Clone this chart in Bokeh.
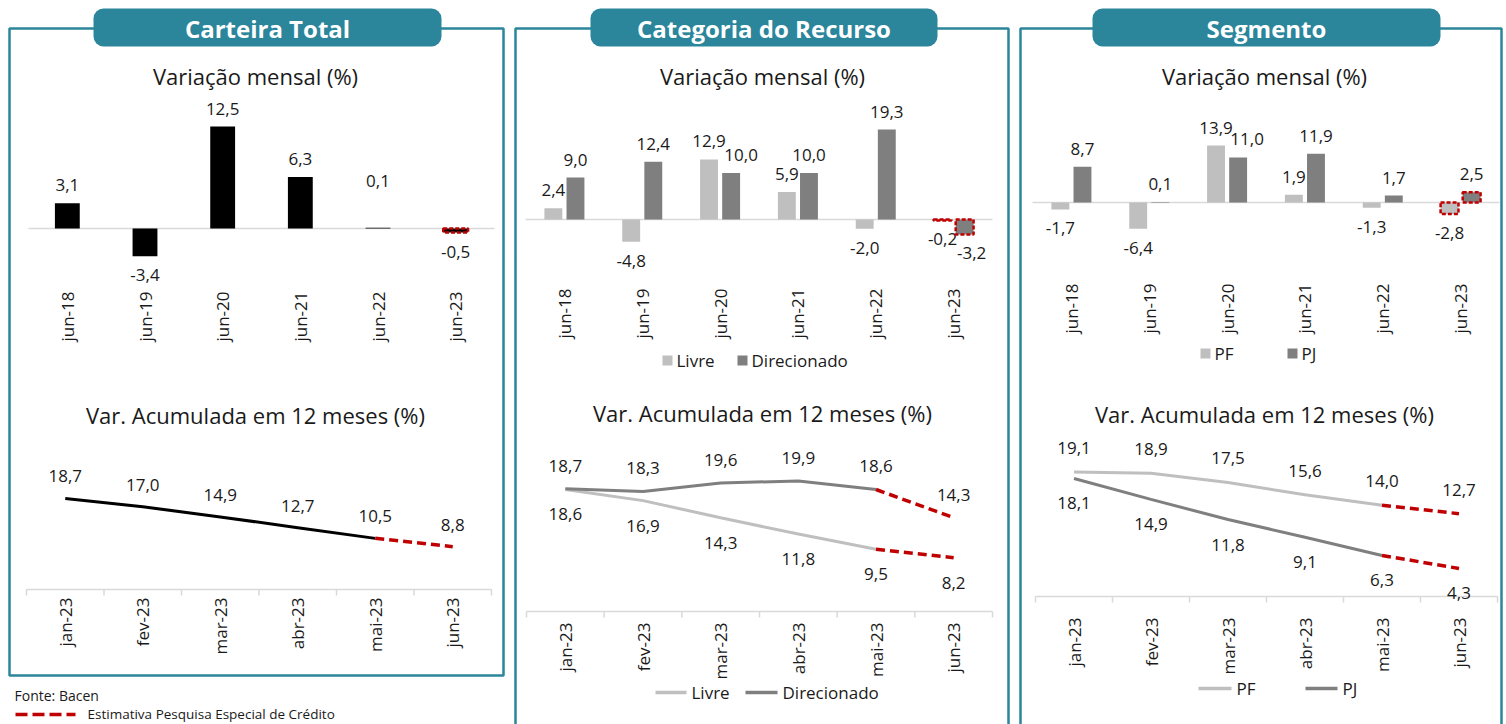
import numpy as np
from bokeh.plotting import figure
from bokeh.models import Range1d
from bokeh.core.properties import value
from bokeh.embed import file_html
from bokeh.resources import INLINE

# ---------------- data ----------------
anos = ["jun-18", "jun-19", "jun-20", "jun-21", "jun-22", "jun-23"]
meses = ["jan-23", "fev-23", "mar-23", "abr-23", "mai-23", "jun-23"]

total_mensal = [3.1, -3.4, 12.5, 6.3, 0.1, -0.5]
total_acum = [18.7, 17.0, 14.9, 12.7, 10.5, 8.8]

livre_mensal = [2.4, -4.8, 12.9, 5.9, -2.0, -0.2]
direcionado_mensal = [9.0, 12.4, 10.0, 10.0, 19.3, -3.2]
livre_acum = [18.6, 16.9, 14.3, 11.8, 9.5, 8.2]
direcionado_acum = [18.7, 18.3, 19.6, 19.9, 18.6, 14.3]

pf_mensal = [-1.7, -6.4, 13.9, 1.9, -1.3, -2.8]
pj_mensal = [8.7, 0.1, 11.0, 11.9, 1.7, 2.5]
pf_acum = [19.1, 18.9, 17.5, 15.6, 14.0, 12.7]
pj_acum = [18.1, 14.9, 11.8, 9.1, 6.3, 4.3]

# ---------------- style ----------------
W, H = 1506, 724
TEAL = "#2b859b"
RED = "#c00000"
LIGHT = "#bfbfbf"
DARK = "#7f7f7f"
INK = "#1a1a1a"
AXIS = "#d9d9d9"
FONT = value("Open Sans")

p = figure(width=W, height=H, x_range=Range1d(0, W), y_range=Range1d(0, H),
           x_axis_type=None, y_axis_type=None, output_backend="svg",
           toolbar_location=None, min_border=0)
p.outline_line_color = None
p.background_fill_color = "white"


def row(r):
    """Page row (from the top) -> canvas y."""
    return H - r


def fmt(vals):
    return [f"{v:.1f}".replace(".", ",") for v in vals]


def sub_chart(name, left, right, zero_row, px_per_unit, n=6):
    """Extra ranges placing n categories between page columns left..right,
    with value 0 on page row zero_row."""
    per_px = n / (right - left)
    p.extra_x_ranges[name] = Range1d(-0.5 - left * per_px, -0.5 + (W - left) * per_px)
    p.extra_y_ranges[name] = Range1d((zero_row - H) / px_per_unit, zero_row / px_per_unit)
    return dict(x_range_name=name, y_range_name=name), px_per_unit


def txt(x, y, text, size, color=INK, align="center", baseline="middle", bold=False, **kw):
    p.text(x=x, y=y, text=text, text_font=FONT, text_font_size=size,
           text_color=color, text_align=align, text_baseline=baseline,
           text_font_style="bold" if bold else "normal", **kw)


def category_axis(rn, ppu, cats, label_gap, ticks):
    n = len(cats)
    p.segment(x0=[-0.5], y0=[0], x1=[n - 0.5], y1=[0], line_color=AXIS, line_width=1.5, **rn)
    if ticks:
        b = np.arange(n + 1) - 0.5
        p.segment(x0=b, y0=np.zeros(n + 1), x1=b, y1=np.full(n + 1, -6 / ppu),
                  line_color=AXIS, line_width=1.5, **rn)
    txt(np.arange(n), np.zeros(n), cats, "17px", angle=np.pi / 2, align="right",
        y_offset=label_gap, **rn)


def bars(rn, vals, color, width, offset, nudge_x=None, nudge_y=None):
    v = np.asarray(vals, dtype=float)
    x = np.arange(len(v)) + offset
    p.vbar(x=x[:-1], top=v[:-1], bottom=0, width=width, fill_color=color,
           line_color=None, **rn)
    # latest month: survey estimate, dashed red outline
    p.vbar(x=x[-1:], top=v[-1:], bottom=0, width=width, fill_color=color,
           line_color=RED, line_width=2.5, line_dash="4 2", **rn)
    nx = np.zeros(len(v)) if nudge_x is None else np.asarray(nudge_x, float)
    ny = np.zeros(len(v)) if nudge_y is None else np.asarray(nudge_y, float)
    txt(x, v, fmt(v), "17px", x_offset=nx, y_offset=np.where(v >= 0, -18, 19) + ny, **rn)


def trend(rn, vals, color, label_dy):
    v = np.asarray(vals, dtype=float)
    x = np.arange(len(v))
    p.line(x[:-1], v[:-1], line_color=color, line_width=3, **rn)
    p.line(x[-2:], v[-2:], line_color=RED, line_width=3.5, line_dash="9 5", **rn)
    txt(x, v, fmt(v), "17px", y_offset=label_dy, **rn)


# ---------------- panel frames and banners ----------------
frames = [(9, 503, 675), (515, 1008, 760), (1020, 1501, 760)]
for l, r, b in frames:
    p.quad(left=l, right=r, top=row(28), bottom=row(b), fill_color=None,
           line_color=TEAL, line_width=2.5)

banners = [(93, 441, "Carteira Total"), (590, 937, "Categoria do Recurso"),
           (1092, 1440, "Segmento")]
for l, r, t in banners:
    p.quad(left=l, right=r, top=row(8), bottom=row(46), fill_color=TEAL,
           line_color=None, border_radius=10)
    txt([(l + r) / 2], [row(28)], [t], "24px", color="white", bold=True)

subtitles = [(255, 414), (762, 412), (1264, 413)]
for cx, r2 in subtitles:
    txt([cx], [row(75)], ["Variação mensal (%)"], "22px")
    txt([cx], [row(r2)], ["Var. Acumulada em 12 meses (%)"], "22px")

# ---------------- Carteira Total ----------------
rn, ppu = sub_chart("tot_bar", 28, 494, 228, 8.16)
category_axis(rn, ppu, anos, 63, ticks=False)
bars(rn, total_mensal, "black", 0.32, 0.0, nudge_y=[0, 0, 0, 0, -29, 0])

rn, ppu = sub_chart("tot_line", 26, 491, 589, 4.87)
category_axis(rn, ppu, meses, 8, ticks=True)
trend(rn, total_acum, "black", -22)

# ---------------- Categoria do Recurso ----------------
rn, ppu = sub_chart("cat_bar", 525, 992, 219, 4.66)
category_axis(rn, ppu, anos, 69, ticks=False)
bars(rn, livre_mensal, LIGHT, 0.23, -0.142)
bars(rn, direcionado_mensal, DARK, 0.23, 0.142, nudge_x=[0, 0, 10, 0, 0, 7])

rn, ppu = sub_chart("cat_line", 526, 992, 611, 6.56)
category_axis(rn, ppu, meses, 11, ticks=True)
trend(rn, livre_acum, LIGHT, 25)
trend(rn, direcionado_acum, DARK, -23)

# ---------------- Segmento ----------------
rn, ppu = sub_chart("seg_bar", 1032, 1499, 202, 4.1)
category_axis(rn, ppu, anos, 81, ticks=False)
bars(rn, pf_mensal, LIGHT, 0.23, -0.142)
bars(rn, pj_mensal, DARK, 0.23, 0.142, nudge_x=[0, 0, 9, 0, 0, 0])

rn, ppu = sub_chart("seg_line", 1035, 1497, 596, 6.52)
category_axis(rn, ppu, meses, 21, ticks=True)
trend(rn, pf_acum, LIGHT, -24)
trend(rn, pj_acum, DARK, 25)

# ---------------- legends ----------------
def legend_square(x, r, color, label):
    p.rect(x=[x], y=[row(r)], width=10, height=10, fill_color=color, line_color=None)
    txt([x + 9], [row(r)], [label], "17px", align="left")


def legend_line(x0, x1, r, color, label):
    p.line([x0, x1], [row(r), row(r)], line_color=color, line_width=3.5)
    txt([x1 + 5], [row(r)], [label], "17px", align="left")


legend_square(667, 360, LIGHT, "Livre")
legend_square(742, 360, DARK, "Direcionado")
legend_square(1205, 353, LIGHT, "PF")
legend_square(1292, 353, DARK, "PJ")
legend_line(655, 686, 692, LIGHT, "Livre")
legend_line(745, 777, 692, DARK, "Direcionado")
legend_line(1198, 1231, 688, LIGHT, "PF")
legend_line(1305, 1337, 688, DARK, "PJ")

# ---------------- footnotes ----------------
txt([14], [row(695)], ["Fonte: Bacen"], "14px", align="left")
p.line([15, 75], [row(714), row(714)], line_color=RED, line_width=3.5, line_dash="12 5")
txt([87], [row(713)], ["Estimativa Pesquisa Especial de Crédito"], "13.5px", align="left")

open("out.html", "w").write(file_html(p, INLINE))
